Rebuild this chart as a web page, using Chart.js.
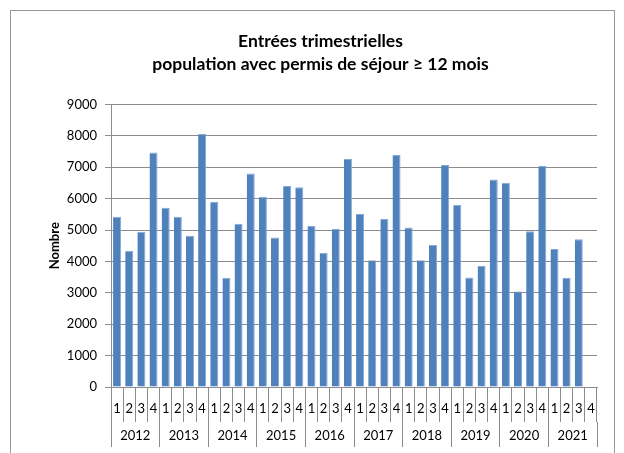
<!DOCTYPE html>
<html>
<head>
<meta charset="utf-8">
<script src="https://cdn.jsdelivr.net/npm/chart.js@4"></script>
<style>
  html, body { margin: 0; padding: 0; background: #fff; overflow: hidden; }
  #wrap { position: relative; width: 624px; height: 453px; }
  #frame { position: absolute; left: 10px; top: 10px; width: 603px; height: 460px; border: 1px solid #999; }
  canvas { position: absolute; left: 0; top: 0; }
</style>
</head>
<body>
<div id="wrap">
  <div id="frame"></div>
  <canvas id="chart" width="624" height="453"></canvas>
</div>
<script>
// quarterly entries, 2012 Q1 .. 2021 Q4 (last quarter not yet available)
const years = ["2012", "2013", "2014", "2015", "2016", "2017", "2018", "2019", "2020", "2021"];
const quarters = ["1", "2", "3", "4"];
const entries = [
  5420, 4340, 4950, 7470,
  5710, 5420, 4820, 8060,
  5900, 3480, 5200, 6800,
  6060, 4760, 6400, 6360,
  5140, 4280, 5040, 7260,
  5510, 4040, 5350, 7390,
  5080, 4040, 4520, 7070,
  5800, 3490, 3860, 6610,
  6510, 3040, 4960, 7040,
  4400, 3480, 4710, null
];
const yTicks = [0, 1000, 2000, 3000, 4000, 5000, 6000, 7000, 8000, 9000];

const quarterLabels = [];
years.forEach(() => quarters.forEach((q) => quarterLabels.push(q)));

const font = "Lato, 'Open Sans', sans-serif";
const gridGrey = "#8c8c8c";

const ctx = document.getElementById("chart").getContext("2d");
new Chart(ctx, {
  type: "bar",
  data: {
    labels: quarterLabels,
    datasets: [
      {
        data: entries,
        backgroundColor: "#4f81bd",
        borderColor: "#86a8d3",
        borderWidth: { top: 1, right: 1, left: 0, bottom: 0 },
        barPercentage: 0.66,
        categoryPercentage: 1,
        xAxisID: "x",
      },
    ],
  },
  options: {
    responsive: false,
    animation: false,
    layout: { padding: { left: 44, right: 27, top: 30, bottom: 0 } },
    plugins: {
      legend: { display: false },
      tooltip: { enabled: false },
      title: {
        display: true,
        text: ["Entrées trimestrielles", "population avec permis de séjour ≥ 12 mois"],
        color: "#000",
        font: { family: font, size: 17.5, weight: "bold", lineHeight: 1.3 },
        padding: { top: 0, bottom: 29 },
      },
    },
    scales: {
      y: {
        min: 0,
        max: 9000,
        afterBuildTicks: (scale) => {
          scale.ticks = yTicks.map((v) => ({ value: v }));
        },
        afterFit: (scale) => {
          scale.width = 67;
        },
        ticks: {
          color: "#000",
          padding: 8,
          font: { family: font, size: 13 },
          callback: (v) => String(v),
        },
        grid: { color: gridGrey, tickLength: 6, lineWidth: 1 },
        border: { color: gridGrey },
        title: {
          display: true,
          text: "Nombre",
          color: "#000",
          padding: { top: 3, bottom: 0 },
          font: { family: font, size: 13, weight: "bold" },
        },
      },
      x: {
        position: "bottom",
        offset: true,
        ticks: {
          color: "#000",
          maxRotation: 0,
          autoSkip: false,
          padding: -21,
          font: { family: font, size: 13 },
        },
        grid: { offset: true, drawOnChartArea: false, tickLength: 35, color: gridGrey },
        border: { color: gridGrey },
        afterFit: (scale) => {
          scale.height = 35;
        },
      },
      year: {
        type: "category",
        labels: years,
        position: "bottom",
        offset: true,
        ticks: {
          color: "#000",
          maxRotation: 0,
          autoSkip: false,
          padding: -19,
          font: { family: font, size: 13 },
        },
        grid: { offset: true, drawOnChartArea: false, tickLength: 25, color: gridGrey },
        border: { display: false },
        afterFit: (scale) => {
          scale.height = 31;
        },
      },
    },
  },
});
</script>
</body>
</html>
